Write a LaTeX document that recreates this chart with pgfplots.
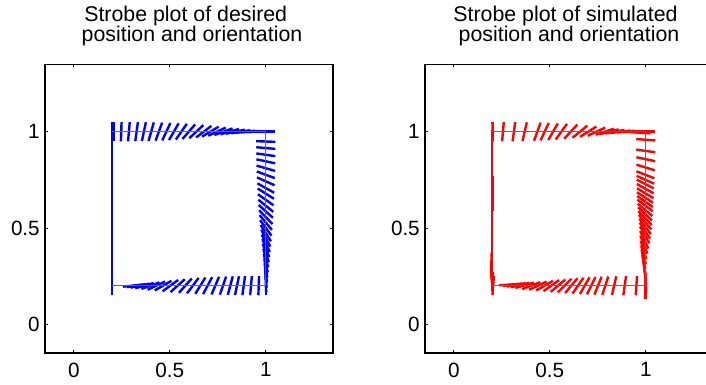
\documentclass[border=0pt]{standalone}
\usepackage{pgfplots}
\usepackage{pgfplotstable}
\pgfplotsset{compat=1.18}
\usepackage{fontspec}
\setmainfont{Liberation Sans}
\definecolor{pathgray}{RGB}{105,105,105}

% strobe centres (x, y) and orientation angle a (degrees)
\pgfplotstableread{
x y a
0.305 0.2 6
0.325 0.2 9
0.345 0.2 12
0.368 0.2 16
0.399 0.2 20
0.430 0.2 25
0.465 0.2 30
0.503 0.2 36
0.541 0.2 42
0.581 0.2 48
0.620 0.2 53
0.659 0.2 58
0.697 0.2 62
0.737 0.2 67
0.777 0.2 71
0.815 0.2 75
0.850 0.2 78
0.885 0.2 82
0.923 0.2 85
0.963 0.2 88
1.000 0.2 90
1 0.215 92
1 0.239 95
1 0.265 97
1 0.291 99
1 0.317 102
1 0.343 105
1 0.369 108
1 0.395 111
1 0.420 115
1 0.447 118
1 0.473 122
1 0.500 126
1 0.528 130
1 0.556 134
1 0.586 138
1 0.615 141
1 0.646 145
1 0.678 148
1 0.707 151
1 0.742 156
1 0.776 160
1 0.810 164
1 0.846 168
1 0.880 172
1 0.915 175
1 0.949 178
1.000 1 180
0.980 1 180
0.960 1 181
0.940 1 182
0.918 1 184
0.895 1 186
0.870 1 189
0.842 1 192
0.812 1 196
0.780 1 200
0.746 1 205
0.711 1 211
0.677 1 217
0.638 1 223
0.599 1 229
0.560 1 235
0.521 1 240
0.482 1 245
0.443 1 250
0.403 1 254
0.365 1 258
0.327 1 262
0.287 1 265
0.247 1 268
0.209 1 270
0.2 1.00 90
0.2 0.96 90
0.2 0.92 90
0.2 0.88 90
0.2 0.84 90
0.2 0.80 90
0.2 0.76 90
0.2 0.72 90
0.2 0.68 90
0.2 0.64 90
0.2 0.60 90
0.2 0.56 90
0.2 0.52 90
0.2 0.48 90
0.2 0.44 90
0.2 0.40 90
0.2 0.36 90
0.2 0.32 90
0.2 0.28 90
0.2 0.24 90
0.2 0.20 90
}\desired

\pgfplotstableread{
x y a
0.285 0.205 4
0.305 0.205 7
0.325 0.204 10
0.345 0.203 13
0.369 0.202 16
0.403 0.2 21
0.438 0.2 25
0.473 0.2 30
0.508 0.2 35
0.543 0.2 40
0.577 0.2 45
0.612 0.2 50
0.647 0.2 55
0.682 0.2 60
0.716 0.2 64
0.751 0.2 68
0.789 0.2 72
0.835 0.2 77
0.890 0.2 82
0.951 0.2 86
0.998 0.180 90
1.000 0.215 93
0.997 0.250 95
0.993 0.285 97
0.990 0.310 99
0.988 0.336 101
0.988 0.360 104
0.988 0.386 107
0.990 0.413 111
0.992 0.438 115
0.994 0.464 119
0.995 0.486 123
0.996 0.508 127
0.996 0.530 131
0.996 0.551 134
0.996 0.573 137
0.996 0.594 140
0.996 0.617 143
0.996 0.637 145
0.996 0.658 147
0.997 0.680 149
0.997 0.704 151
0.997 0.728 153
0.998 0.750 156
0.998 0.776 159
0.999 0.814 163
1.000 0.857 168
1.000 0.900 172
1.000 0.958 176
1.000 1.000 180
0.975 0.998 172
0.950 0.997 174
0.925 0.998 177
0.900 1.000 184
0.870 1.000 187
0.840 1.000 191
0.810 1.000 194
0.786 1.000 198
0.743 1.000 205
0.700 1.000 212
0.657 1.000 219
0.609 1.000 227
0.560 1.000 234
0.517 1.000 240
0.473 1.000 245
0.435 1.000 250
0.369 1.000 257
0.313 1.000 262
0.256 1.000 265
0.205 1.000 270
0.202 1.00 91
0.200 0.96 90
0.199 0.92 90
0.199 0.88 90
0.200 0.84 90
0.200 0.80 90
0.200 0.76 90
0.201 0.72 90
0.201 0.68 90
0.201 0.64 90
0.200 0.60 90
0.200 0.56 90
0.200 0.52 90
0.200 0.48 90
0.200 0.44 90
0.199 0.40 90
0.198 0.36 90
0.197 0.32 91
0.196 0.28 92
0.197 0.24 94
0.202 0.22 88
0.205 0.20 86
}\simulated

\pgfplotsset{
  strobeaxis/.style={
    anchor=south west, scale only axis, width=216pt, height=216.5pt,
    xmin=-0.15, xmax=1.35, ymin=-0.15, ymax=1.35,
    xtick={0,0.5,1}, ytick={0,0.5,1},
    tick align=inside, major tick length=2.2pt,
    axis line style={line width=0.8pt},
    every tick/.style={black, line width=0.6pt},
    /pgf/number format/assume math mode=true,
    xticklabel style={inner sep=0pt, yshift=-7pt},
    yticklabel style={inner sep=0pt, xshift=-3.75pt},
  },
  strobe/.style={line width=1.8pt,
    quiver={u={0.1*cos(\thisrow{a})}, v={0.1*sin(\thisrow{a})}}},
}

\begin{document}
\fontsize{15.5}{18}\selectfont
\begin{tikzpicture}
\useasboundingbox (0,0) rectangle (529.5pt,288.75pt);
\begin{scope}
\clip (0,0) rectangle (529.5pt,288.75pt);
\begin{axis}[strobeaxis, at={(33.75pt,24pt)}]
\addplot[blue, strobe] table[x expr={\thisrow{x}-0.05*cos(\thisrow{a})}, y expr={\thisrow{y}-0.05*sin(\thisrow{a})}] {\desired};
\addplot[pathgray, line width=1pt] coordinates {(0.2,0.2) (1,0.2) (1,1) (0.2,1)};
\end{axis}
\begin{axis}[strobeaxis, at={(318.75pt,24pt)}]
\addplot[red, strobe] table[x expr={\thisrow{x}-0.05*cos(\thisrow{a})}, y expr={\thisrow{y}-0.05*sin(\thisrow{a})}] {\simulated};
\addplot[pathgray, line width=1pt] coordinates {(0.2,0.2) (1,0.2) (1,1) (0.2,1)};
\end{axis}
\begingroup\fontsize{16}{19}\selectfont
\node[anchor=base, inner sep=0pt] at (139.3pt,272.5pt) {Strobe plot of desired};
\node[anchor=base, inner sep=0pt] at (144pt,257.5pt) {position and orientation};
\node[anchor=base, inner sep=0pt] at (424.1pt,272.5pt) {Strobe plot of simulated};
\node[anchor=base, inner sep=0pt] at (426.75pt,257.5pt) {position and orientation};
\endgroup
\end{scope}
\end{tikzpicture}
\end{document}
